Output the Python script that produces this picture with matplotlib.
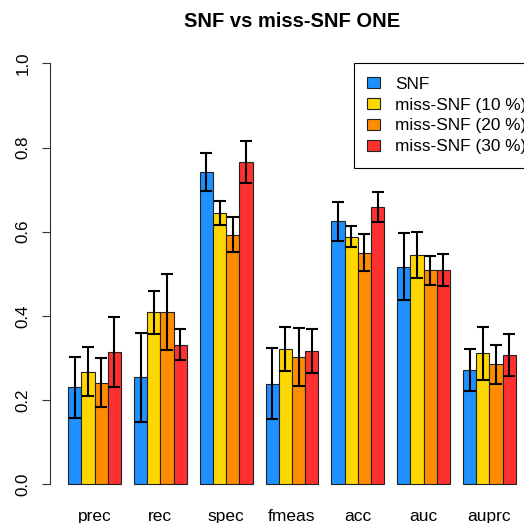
import numpy as np
import matplotlib.pyplot as plt

plt.rcParams["font.family"] = ["Liberation Sans", "DejaVu Sans"]

groups = ["prec", "rec", "spec", "fmeas", "acc", "auc", "auprc"]
methods = ["SNF", "miss-SNF (10 %)", "miss-SNF (20 %)", "miss-SNF (30 %)"]
colors = ["#1E90FF", "#FFD700", "#FF8C00", "#FF3030"]

snf_mean = [0.230, 0.254, 0.741, 0.239, 0.625, 0.517, 0.272]
m10_mean = [0.267, 0.409, 0.645, 0.321, 0.588, 0.545, 0.311]
m20_mean = [0.241, 0.410, 0.593, 0.303, 0.550, 0.508, 0.285]
m30_mean = [0.314, 0.332, 0.765, 0.317, 0.659, 0.508, 0.307]

snf_err = [0.072, 0.105, 0.045, 0.085, 0.046, 0.080, 0.050]
m10_err = [0.058, 0.051, 0.029, 0.053, 0.025, 0.055, 0.063]
m20_err = [0.058, 0.090, 0.042, 0.069, 0.044, 0.035, 0.046]
m30_err = [0.084, 0.038, 0.050, 0.052, 0.035, 0.038, 0.049]

means = [snf_mean, m10_mean, m20_mean, m30_mean]
errs = [snf_err, m10_err, m20_err, m30_err]

fig = plt.figure(figsize=(5.24, 5.23), dpi=100)
ax = fig.add_axes([0.0962, 0.0419, 0.9221, 0.8692])

g = np.arange(len(groups))
for j, (m, e, c, lab) in enumerate(zip(means, errs, colors, methods)):
    x = 1.5 + g * 5 + j
    ax.bar(x, m, width=1.0, color=c, edgecolor="#222222", linewidth=0.8,
           label=lab, zorder=2)
    ax.errorbar(x, m, yerr=e, fmt="none", ecolor="black", elinewidth=1.5,
                capsize=4.3, capthick=1.5, zorder=3)

ax.set_xlim(-0.36, 36.36)
ax.set_ylim(-0.04, 1.04)
for s in ["top", "right", "bottom"]:
    ax.spines[s].set_visible(False)
ax.spines["left"].set_bounds(0, 1)
ax.spines["left"].set_color("#333333")
ax.set_yticks([0, 0.2, 0.4, 0.6, 0.8, 1.0])
ax.set_yticklabels(["0.0", "0.2", "0.4", "0.6", "0.8", "1.0"], rotation=90,
                   va="center", fontsize=12.25)
ax.tick_params(axis="y", length=5.5, width=0.8, color="#333333", pad=9)
ax.set_xticks(3 + g * 5)
ax.set_xticklabels(groups, fontsize=12.5)
ax.tick_params(axis="x", length=0, pad=5.5)

fig.text(0.557, 0.958, "SNF vs miss-SNF ONE", ha="center", va="center",
         fontsize=14.5, fontweight="bold")

leg = ax.legend(loc="upper left", bbox_to_anchor=(353.7 / 524, 1 - 63.3 / 523),
                bbox_transform=fig.transFigure, fontsize=12.4, fancybox=False,
                edgecolor="black", framealpha=1, borderpad=0.78,
                labelspacing=0.34, handlelength=0.72, handleheight=0.65,
                handletextpad=0.9, borderaxespad=0)
leg.get_frame().set_linewidth(0.8)

fig.savefig("out.png", dpi=100)
